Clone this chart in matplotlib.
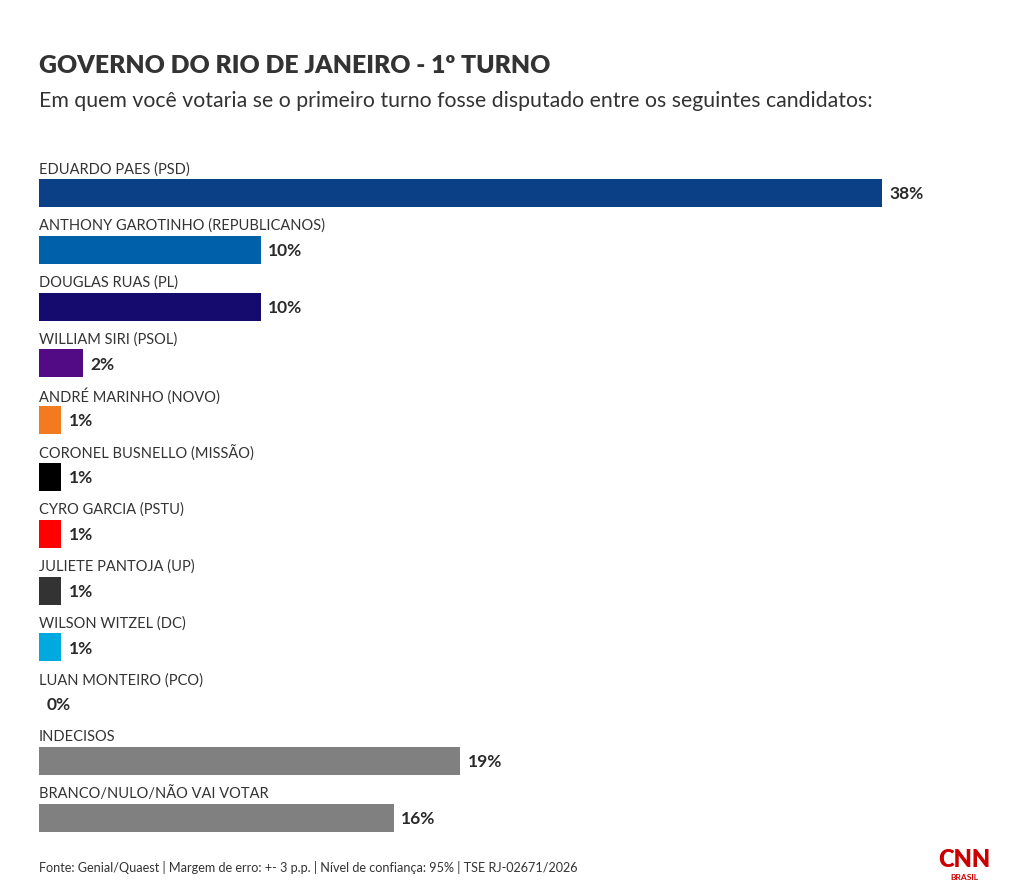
import matplotlib.pyplot as plt

plt.rcParams['font.family'] = ['Lato', 'DejaVu Sans']

candidates = [
    'EDUARDO PAES (PSD)',
    'ANTHONY GAROTINHO (REPUBLICANOS)',
    'DOUGLAS RUAS (PL)',
    'WILLIAM SIRI (PSOL)',
    'ANDRÉ MARINHO (NOVO)',
    'CORONEL BUSNELLO (MISSÃO)',
    'CYRO GARCIA (PSTU)',
    'JULIETE PANTOJA (UP)',
    'WILSON WITZEL (DC)',
    'LUAN MONTEIRO (PCO)',
    'INDECISOS',
    'BRANCO/NULO/NÃO VAI VOTAR',
]
values = [38, 10, 10, 2, 1, 1, 1, 1, 1, 0, 19, 16]
colors = ['#0b3f86', '#0061aa', '#150a6e', '#520a85', '#f47a20', '#000000',
          '#ff0000', '#333333', '#00a9e0', '#ffffff', '#808080', '#808080']

W, H = 1020, 894
fig = plt.figure(figsize=(W / 100, H / 100), dpi=100)

x0, x38 = 39, 882
row0, pitch = 193, 56.8
top_px = row0 - pitch
bot_px = row0 + 12 * pitch
ax = fig.add_axes([x0 / W, 1 - bot_px / H, (x38 - x0) / W, (bot_px - top_px) / H])
ax.set_xlim(0, 38)
ax.set_ylim(12, -1)
ax.axis('off')

bar_h = 28 / pitch
txt = '#333333'
for i, (name, v, c) in enumerate(zip(candidates, values, colors)):
    ax.barh(i, v, height=bar_h, color=c, left=0)
    ax.text(0, i - 0.42, name, fontsize=10.5, color=txt, va='center', ha='left')
    ax.text(v + 0.33, i + 0.02, f'{v}%', fontsize=12.5, fontweight='bold',
            color='#2a2a2a', va='center', ha='left')

fig.text(x0 / W, 1 - 66 / H, 'GOVERNO DO RIO DE JANEIRO - 1º TURNO', fontsize=17.8,
         fontweight='heavy', color=txt, va='center', ha='left')
fig.text(x0 / W, 1 - 101 / H,
         'Em quem você votaria se o primeiro turno fosse disputado entre os seguintes candidatos:',
         fontsize=15.3, color=txt, va='center', ha='left')
fig.text(x0 / W, 1 - 867 / H,
         'Fonte: Genial/Quaest | Margem de erro: +- 3 p.p. | Nível de confiança: 95% | TSE RJ-02671/2026',
         fontsize=9.1, color=txt, va='center', ha='left')

fig.text(964 / W, 1 - 860 / H, 'CNN', fontsize=17, fontweight='heavy', color='#cc0000',
         va='center', ha='center')
fig.text(964 / W, 1 - 877 / H, 'BRASIL', fontsize=6, fontweight='bold', color='#cc0000',
         va='center', ha='center')

fig.savefig('out.png', dpi=100, facecolor='white')
